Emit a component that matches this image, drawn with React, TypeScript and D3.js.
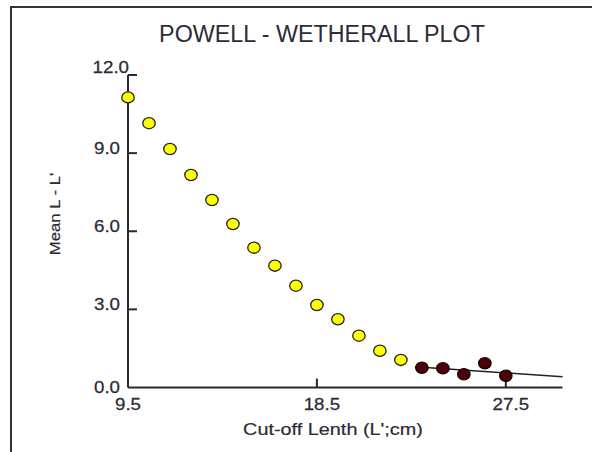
import React from "react";
import * as d3 from "d3";

// Cut-off lengths (L', cm) and mean L - L'
const cutoffYellow = [9.5, 10.5, 11.5, 12.5, 13.5, 14.5, 15.5, 16.5, 17.5, 18.5, 19.5, 20.5, 21.5, 22.5];
const meanYellow = [11.14, 10.15, 9.16, 8.16, 7.2, 6.28, 5.37, 4.68, 3.91, 3.17, 2.62, 1.99, 1.41, 1.06];
const cutoffDark = [23.5, 24.5, 25.5, 26.5, 27.5];
const meanDark = [0.76, 0.74, 0.51, 0.93, 0.45];
// regression line endpoints
const lineX = [23.17, 30.2];
const lineY = [0.8, 0.41];

const xTicks = [9.5, 18.5, 27.5];
const yTicks = [0, 3, 6, 9, 12];
const xDomain = [9.5, 30.2];
const yDomain = [0, 12];

const TITLE = "POWELL - WETHERALL PLOT";
const X_TITLE = "Cut-off Lenth (L';cm)";
const Y_TITLE = "Mean L - L'";

export default function App() {
  const W = 592, H = 452;
  const x = d3.scaleLinear().domain(xDomain).range([128, 562.5]);
  const y = d3.scaleLinear().domain(yDomain).range([387.5, 75]);
  const font = "'Liberation Sans', Arial, sans-serif";
  const txt = "#2c2c38";
  const axisC = "#2a2a2a";

  const regLine = d3.line<number>()
    .x((_, i) => x(lineX[i]))
    .y((_, i) => y(lineY[i]))(lineX) as string;

  return (
    <svg width={W} height={H} style={{ position: "absolute", left: 0, top: 0, background: "#fff" }}>
      <rect x={0} y={0} width={W} height={H} fill="#fff" />
      {/* frame */}
      <line x1={11} y1={7} x2={W} y2={7} stroke="#333" strokeWidth={2} />
      <line x1={11} y1={6} x2={11} y2={H} stroke="#333" strokeWidth={2} />

      {/* title */}
      <text x={322} y={41.5} textAnchor="middle" fontFamily={font} fontSize={23.3} fill={txt}>{TITLE}</text>

      {/* axes */}
      <line x1={x(xDomain[0])} y1={y(0)} x2={x(xDomain[1])} y2={y(0)} stroke={axisC} strokeWidth={2} />
      <line x1={x(xDomain[0])} y1={y(12)} x2={x(xDomain[0])} y2={y(0)} stroke={axisC} strokeWidth={2} />

      {/* y ticks & labels */}
      {yTicks.map((v) => (
        <g key={"y" + v}>
          {v > 0 && <line x1={x(xDomain[0])} x2={x(xDomain[0]) + 9} y1={y(v)} y2={y(v)} stroke={axisC} strokeWidth={2} />}
          <text
            transform={`translate(${v === 12 ? x(xDomain[0]) + 1 : x(xDomain[0]) - 8},${y(v) + (v === 12 ? -2 : v === 0 ? 5 : 1)}) scale(1.17,1)`}
            textAnchor="end" fontFamily={font} fontSize={16} fill={txt} stroke={txt} strokeWidth={0.25}>{v.toFixed(1)}</text>
        </g>
      ))}

      {/* x ticks & labels */}
      {xTicks.map((v, i) => (
        <g key={"x" + v}>
          {i > 0 && <line x1={x(v)} x2={x(v)} y1={y(0)} y2={y(0) - 9} stroke={axisC} strokeWidth={2} />}
          <text transform={`translate(${x(v) + (i === 0 ? 0 : 5)},410) scale(1.17,1)`}
            textAnchor="middle" fontFamily={font} fontSize={16} fill={txt} stroke={txt} strokeWidth={0.25}>{v.toFixed(1)}</text>
        </g>
      ))}

      {/* axis titles */}
      <text transform="translate(333,435) scale(1.24,1)" textAnchor="middle" fontFamily={font} fontSize={16} fill={txt} stroke={txt} strokeWidth={0.2}>{X_TITLE}</text>
      <text transform="translate(60,214) rotate(-90) scale(1.08,1)" textAnchor="middle" fontFamily={font} fontSize={15.5} fill={txt} stroke={txt} strokeWidth={0.2}>{Y_TITLE}</text>

      {/* regression line */}
      <path d={regLine} fill="none" stroke="#222" strokeWidth={1.5} />

      {/* points */}
      {cutoffYellow.map((c, i) => (
        <ellipse key={"py" + i} cx={x(c)} cy={y(meanYellow[i])} rx={6.2} ry={5.6} fill="#ffff00" stroke="#222" strokeWidth={1.3} />
      ))}
      {cutoffDark.map((c, i) => (
        <ellipse key={"pd" + i} cx={x(c)} cy={y(meanDark[i])} rx={6.2} ry={5.6} fill="#4a0008" stroke="#1a0000" strokeWidth={1.3} />
      ))}
    </svg>
  );
}
